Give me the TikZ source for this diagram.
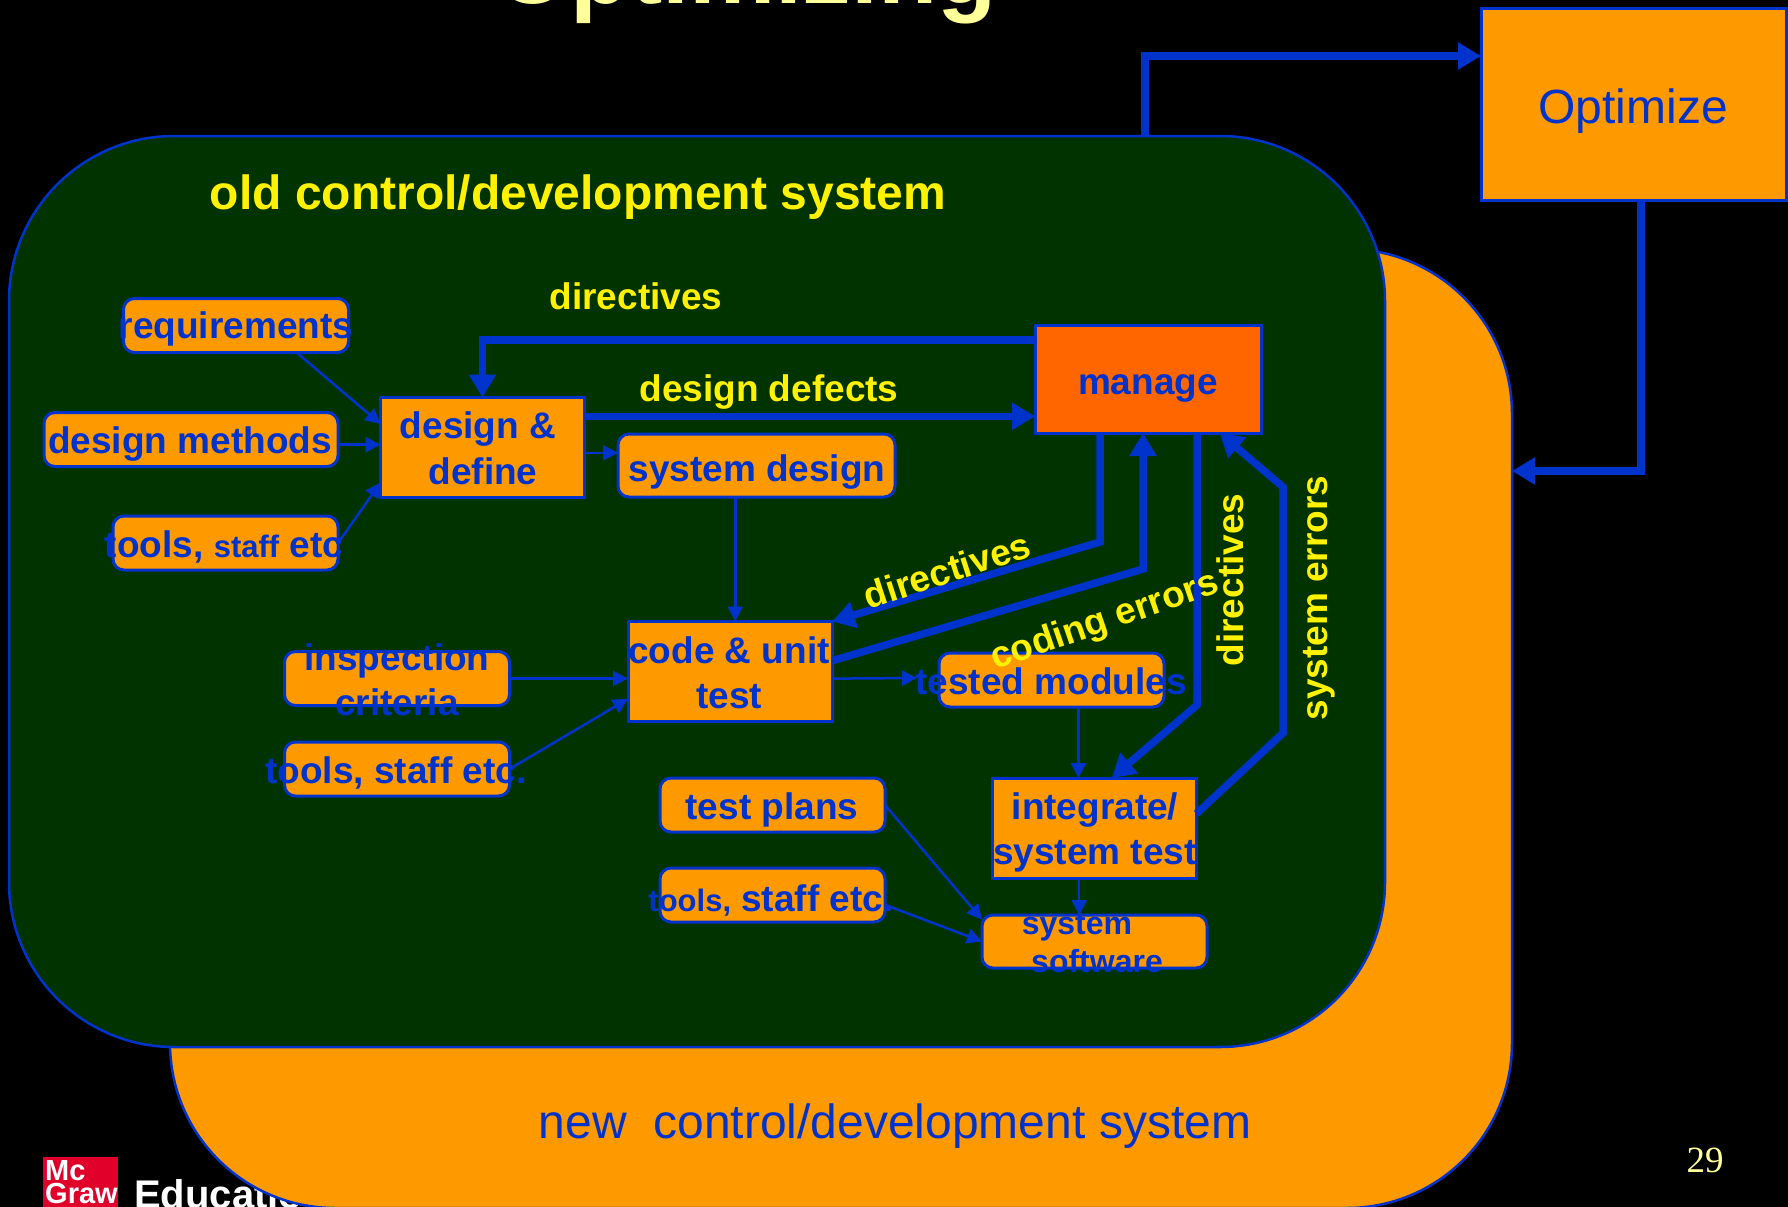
\documentclass[tikz,border=0pt]{standalone}
\usepackage{fontspec}
\setmainfont{Liberation Sans}
\newfontfamily\numfont{Liberation Serif}
\usetikzlibrary{arrows.meta}
\definecolor{slideblue}{HTML}{0033CC}
\definecolor{slideorange}{HTML}{FF9900}
\definecolor{managered}{HTML}{FF6600}
\definecolor{oldgreen}{HTML}{003300}
\definecolor{paleyellow}{HTML}{FFFF99}
\definecolor{logored}{HTML}{E0002A}
\tikzset{
	regionbox/.style={draw=slideblue, line width=2.5pt, rounded corners=165pt, inner sep=0pt, outer sep=0pt},
	roundbox/.style={draw=slideblue, fill=slideorange, line width=3pt, rounded corners=11pt, minimum width=225pt, minimum height=54pt, inner sep=0pt, outer sep=0pt},
	squarebox/.style={draw=slideblue, fill=slideorange, line width=3pt, minimum width=204pt, minimum height=100pt, inner sep=0pt, outer sep=0pt},
	boxtext/.style={text=slideblue, font=\fontsize{37}{45}\selectfont\bfseries, anchor=base, inner sep=0pt},
	smalltext/.style={text=slideblue, font=\fontsize{32}{38}\selectfont\bfseries, anchor=base, inner sep=0pt},
	flowlabel/.style={text=yellow, font=\fontsize{37}{45}\selectfont\bfseries, inner sep=0pt},
	thinarrow/.style={draw=slideblue, line width=2.5pt, -{Triangle[length=15pt,width=15pt]}},
	thickarrow/.style={draw=slideblue, line width=7.5pt, -{Triangle[length=23pt,width=26pt]}}
}
\begin{document}
\begin{tikzpicture}[x=1pt, y=-1pt]
	\useasboundingbox (0,0) rectangle (1788,1207);
	\clip (0,0) rectangle (1788,1207);
	\fill[black] (0,0) rectangle (1788,1207);
	% Slide title and footer
	\node[text=paleyellow, font=\fontsize{97}{110}\selectfont\bfseries, anchor=base, inner sep=0pt] (title) at (746,4) {Optimizing};
	\node[fill=logored, minimum width=75pt, minimum height=56pt, inner sep=0pt] (logo) at (80.5,1185) {};
	\node[text=white, font=\fontsize{29}{23}\selectfont\bfseries, align=left, anchor=north west, inner sep=0pt] (logotext) at (45,1160) {Mc\\Graw};
	\node[text=white, font=\fontsize{40}{50}\selectfont\bfseries, anchor=base west, inner sep=0pt] (education) at (134,1208) {Education};
	\node[text=paleyellow, font=\fontsize{37}{45}\selectfont\numfont, inner sep=0pt] (pagenum) at (1705,1160) {29};
	% The two systems
	\node[regionbox, fill=slideorange, minimum width=1342pt, minimum height=959pt] (newsys) at (841,728.5) {};
	\node[text=slideblue, font=\fontsize{48}{50}\selectfont, anchor=base, inner sep=0pt] (newtext) at (895,1138) {new\ \ control/development system};
	\node[draw=slideblue, fill=slideorange, line width=3pt, minimum width=305pt, minimum height=191pt, inner sep=0pt, outer sep=0pt] (optimize) at (1633.5,104.5) {};
	\node[text=slideblue, font=\fontsize{48}{52}\selectfont, anchor=base, inner sep=0pt] (optimizetext) at (1633,123) {Optimize};
	\node[regionbox, fill=oldgreen, minimum width=1376pt, minimum height=911pt] (oldsys) at (697,591.5) {};
	\node[text=yellow, font=\fontsize{48}{52}\selectfont\bfseries, anchor=base, inner sep=0pt] (oldtext) at (578,209) {old control/development system};
	% Links to the optimize step
	\coordinate (optup) at (1145,56);
	\coordinate (optdown) at (1641,471);
	\draw[thickarrow] (oldsys.north -| optup) -- (optup) -- (optup -| optimize.west);
	\draw[thickarrow] (optimize.south -| optdown) -- (optdown) -- (optdown -| newsys.east);
	% Input boxes
	\node[roundbox] (req) at (236,325.5) {};
	\node[roundbox, minimum width=294pt] (method) at (191,439.5) {};
	\node[roundbox] (tools) at (225.5,543) {};
	\node[roundbox] (insp) at (397,678.5) {};
	\node[roundbox] (toolscode) at (397,769) {};
	\node[roundbox] (plans) at (772.5,805) {};
	\node[roundbox] (toolstest) at (772.5,895) {};
	% Process and product boxes
	\node[squarebox] (design) at (482.5,447.5) {};
	\node[roundbox, minimum width=277pt, minimum height=63pt] (sysdesign) at (756.5,465.5) {};
	\node[squarebox] (code) at (730,671.5) {};
	\node[roundbox] (tested) at (1051.5,680) {};
	\node[squarebox] (integ) at (1094.5,828) {};
	\node[roundbox, minimum height=53pt] (software) at (1094.5,941.5) {};
	\node[squarebox, fill=managered, minimum width=226pt, minimum height=108pt] (manage) at (1148,379) {};
	% Thin arrows
	\coordinate (testedin) at (917,678);
	\draw[thinarrow] (req.-24) -- (design.167);
	\draw[thinarrow] (method.-2) -- (design.west |- method.-2);
	\draw[thinarrow] (tools.east) -- (design.199);
	\draw[thinarrow] (design.-3) -- (sysdesign.west |- design.-3);
	\draw[thinarrow] (sysdesign.south -| code.84) -- (code.84);
	\draw[thinarrow] (insp.east) -- (code.west |- insp.east);
	\draw[thinarrow] (toolscode.east) -- (code.195);
	\draw[thinarrow] (code.-4) -- (testedin);
	\draw[thinarrow] (tested.-45) -- (integ.north -| tested.-45);
	\draw[thinarrow] (integ.-107) -- (software.north -| integ.-107);
	\draw[thinarrow] (plans.east) -- (software.169);
	\draw[thinarrow] (toolstest.-5) -- (software.west);
	% Thick arrows
	\coordinate (dirbend) at (1100,542);
	\coordinate (errbend) at (1143,569);
	\coordinate (integbend) at (1197,705);
	\coordinate (syslow) at (1283,733);
	\coordinate (syshigh) at (1283,487);
	\draw[thickarrow] (manage.161) -| (design.north);
	\draw[thickarrow] (design.17) -- (manage.west |- design.17);
	\draw[thickarrow] (dirbend |- manage.south) -- (dirbend) -- (code.north east);
	\draw[thickarrow] (code.6) -- (errbend) -- (errbend |- manage.south);
	\draw[thickarrow] (integbend |- manage.south) -- (integbend) -- (integ.71);
	\draw[thickarrow] (integ.8) -- (syslow) -- (syshigh) -- (manage.-37);
	% Box texts
	\node[boxtext] (reqtext) at (236,338) {requirements};
	\node[boxtext] (methodtext) at (190,453) {design methods};
	\node[boxtext] (toolstext) at (224,557) {tools, {\fontsize{31}{38}\selectfont staff} etc};
	\node[boxtext] (designtext) at (478,438) {design \&};
	\node[boxtext] (definetext) at (483,484) {define};
	\node[boxtext] (sysdesigntext) at (757,481) {system design};
	\node[boxtext] (codetext) at (729,663) {code \& unit};
	\node[boxtext] (testtext) at (729,708) {test};
	\node[boxtext] (insptext) at (397,670) {inspection};
	\node[boxtext] (criteriatext) at (397,715) {criteria};
	\node[boxtext] (toolscodetext) at (396,783) {tools, staff etc.};
	\node[boxtext] (planstext) at (772,819) {test plans};
	\node[boxtext] (toolstesttext) at (771,911) {{\fontsize{31}{38}\selectfont tools,} staff etc.};
	\node[boxtext] (managetext) at (1148,394) {manage};
	\node[boxtext] (testedtext) at (1051,694) {tested modules};
	\node[boxtext] (integtext) at (1095,819) {integrate/};
	\node[boxtext] (systesttext) at (1095,864) {system test};
	\node[smalltext] (softtext) at (1077,934) {system};
	\node[smalltext] (softwaretext) at (1097,972) {software};
	% Arrow labels
	\node[flowlabel, anchor=base] (dirtop) at (636,309) {directives};
	\node[flowlabel, anchor=base] (defects) at (769,401) {design defects};
	\node[flowlabel, rotate=18] (dircode) at (947,570) {directives};
	\node[flowlabel, rotate=19] (coding) at (1105,622) {coding errors};
	\node[flowlabel, rotate=90] (dirinteg) at (1230,580) {directives};
	\node[flowlabel, rotate=90] (syserr) at (1319,598) {system errors};
\end{tikzpicture}
\end{document}
